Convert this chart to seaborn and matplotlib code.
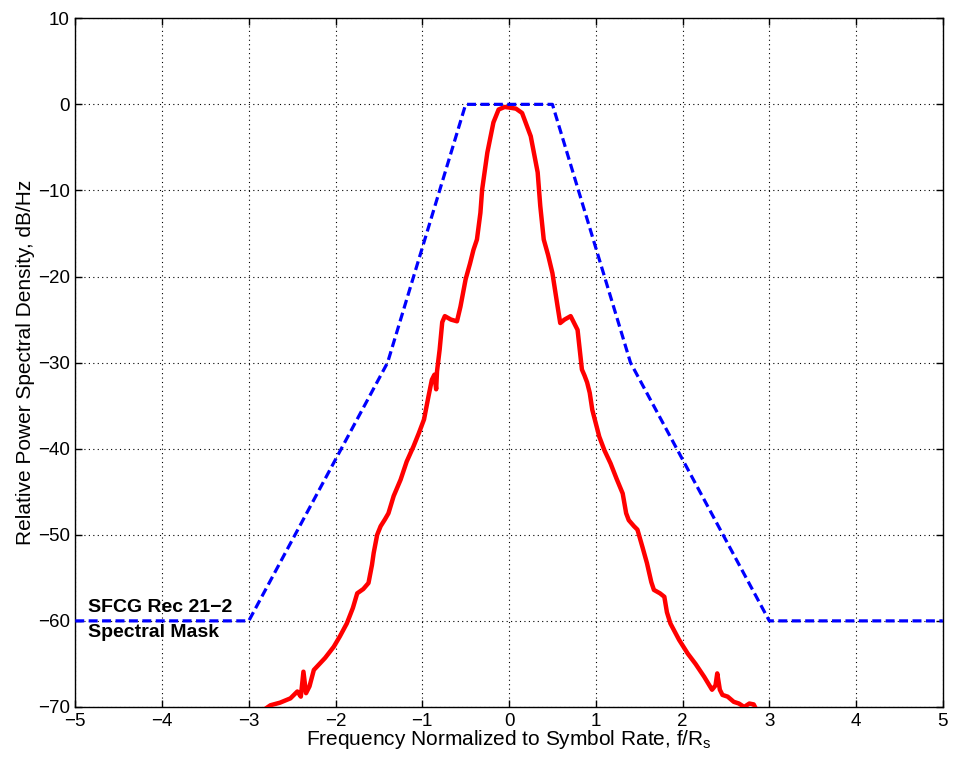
import numpy as np
import pandas as pd
import seaborn as sns
import matplotlib.pyplot as plt

# Spectral mask (SFCG Rec 21-2)
mask_f = [-5, -3, -1.4, -0.5, 0.5, 1.4, 3, 5]
mask_db = [-60, -60, -30, 0, 0, -30, -60, -60]

psd_f = [-2.85, -2.75, -2.64, -2.52, -2.44, -2.40, -2.37, -2.34, -2.30, -2.25,
         -2.12, -2.02, -1.95, -1.87, -1.80, -1.75, -1.68, -1.62, -1.58, -1.56,
         -1.52, -1.48, -1.43, -1.39, -1.33, -1.25, -1.18, -1.10, -1.04, -0.98,
         -0.93, -0.89, -0.86, -0.84, -0.83, -0.80, -0.77, -0.74, -0.67, -0.60,
         -0.56, -0.50, -0.45, -0.41, -0.37, -0.33, -0.31, -0.25, -0.18, -0.12,
         -0.05, 0.02, 0.08, 0.15, 0.25, 0.33, 0.36, 0.40, 0.45, 0.50,
         0.56, 0.59, 0.64, 0.71, 0.79, 0.84, 0.87, 0.90, 0.93, 0.96,
         1.04, 1.10, 1.17, 1.24, 1.31, 1.35, 1.38, 1.44, 1.48, 1.54,
         1.59, 1.64, 1.67, 1.74, 1.79, 1.82, 1.86, 1.96, 2.06, 2.15,
         2.25, 2.34, 2.38, 2.40, 2.43, 2.46, 2.52, 2.59, 2.65, 2.71,
         2.77, 2.82, 2.86]
psd_db = [-70.5, -69.8, -69.5, -69.0, -68.2, -68.8, -65.9, -68.4, -67.6, -65.7,
          -64.3, -63.0, -61.8, -60.3, -58.5, -56.8, -56.3, -55.6, -53.5, -52.1,
          -50.0, -49.0, -48.2, -47.5, -45.5, -43.6, -41.5, -39.7, -38.2, -36.6,
          -34.0, -32.0, -31.4, -33.1, -31.0, -28.5, -25.3, -24.6, -25.0, -25.2,
          -23.5, -20.3, -18.5, -16.9, -15.7, -12.6, -9.9, -5.6, -2.1, -0.6,
          -0.3, -0.4, -0.5, -1.0, -3.7, -7.9, -11.8, -15.7, -17.5, -19.6,
          -23.5, -25.4, -25.0, -24.6, -26.2, -30.8, -31.5, -32.3, -33.5, -35.5,
          -38.6, -40.2, -41.7, -43.5, -45.2, -47.5, -48.3, -49.0, -49.4, -51.5,
          -53.3, -55.5, -56.4, -56.8, -57.2, -59.0, -60.3, -62.2, -63.8, -65.0,
          -66.5, -68.0, -67.5, -66.1, -68.0, -68.6, -68.8, -69.4, -69.6, -70.0,
          -69.6, -69.7, -70.5]

x_ticks = [-5, -4, -3, -2, -1, 0, 1, 2, 3, 4, 5]
y_ticks = [10, 0, -10, -20, -30, -40, -50, -60, -70]

df_mask = pd.DataFrame({'f': mask_f, 'db': mask_db})
df_psd = pd.DataFrame({'f': psd_f, 'db': psd_db})

sns.set_theme(style='white')
plt.rcParams['font.family'] = ['Liberation Sans', 'DejaVu Sans']
plt.rcParams['mathtext.fontset'] = 'custom'
plt.rcParams['mathtext.rm'] = 'Liberation Sans'

fig, ax = plt.subplots(figsize=(9.65, 7.61), dpi=100)
fig.subplots_adjust(left=0.078, right=0.977, bottom=0.071, top=0.976)

sns.lineplot(data=df_psd, x='f', y='db', sort=False, color=(1, 0, 0),
             linewidth=3.2, ax=ax, zorder=3)
sns.lineplot(data=df_mask, x='f', y='db', sort=False, color=(0, 0, 1),
             linewidth=2.3, dashes=False, linestyle=(0, (2.8, 1.4)), ax=ax, zorder=4)

ax.set_xlim(-5, 5)
ax.set_ylim(-70, 10)
ax.set_xticks(x_ticks)
ax.set_yticks(y_ticks)
ax.set_xticklabels([str(t).replace('-', '\u2212') for t in x_ticks])
ax.set_yticklabels([str(t).replace('-', '\u2212') for t in y_ticks])
ax.tick_params(direction='in', length=5, width=1, color='black', labelsize=13.5,
               labelcolor='black', top=True, right=True, bottom=True, left=True, pad=4)
ax.grid(True, color='black', linestyle=(0, (1, 3)), linewidth=0.8)
for sp in ax.spines.values():
    sp.set_color('black')
    sp.set_linewidth(1)

ax.set_xlabel(r'Frequency Normalized to Symbol Rate, f/R$_\mathrm{s}$', fontsize=15,
              color='black', labelpad=-1)
ax.set_ylabel('Relative Power Spectral Density, dB/Hz', fontsize=15,
              color='black', labelpad=2)

ax.text(-4.85, -58.4, 'SFCG Rec 21\u22122', fontsize=14, fontweight='bold',
        va='center', ha='left', color='black', zorder=5)
ax.text(-4.85, -61.4, 'Spectral Mask', fontsize=14, fontweight='bold',
        va='center', ha='left', color='black', zorder=5)

fig.savefig('out.png', dpi=100)
